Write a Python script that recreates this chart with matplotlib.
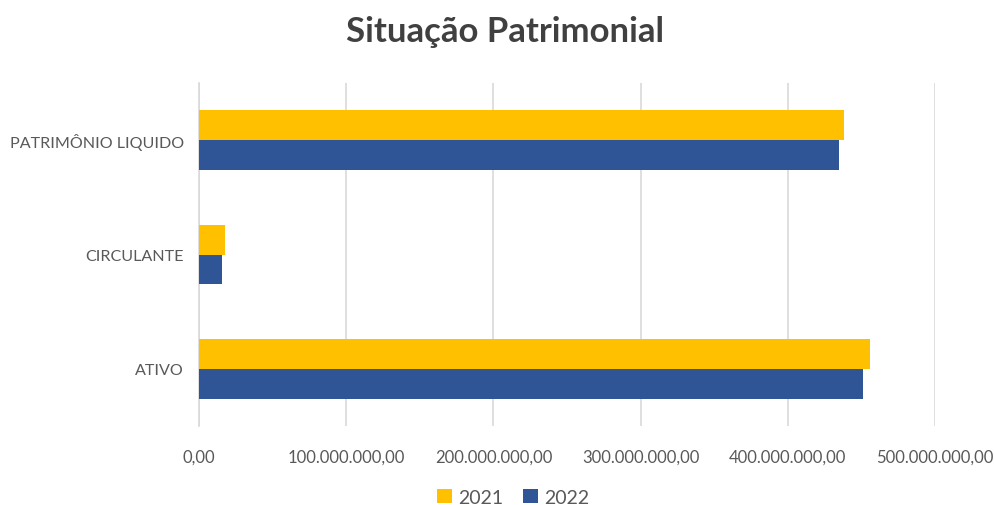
import matplotlib
matplotlib.use("Agg")
import matplotlib.pyplot as plt
import numpy as np

categories = ["ATIVO", "CIRCULANTE", "PATRIMÔNIO LIQUIDO"]
values_2021 = [456_000_000, 17_800_000, 438_000_000]
values_2022 = [451_000_000, 15_800_000, 435_000_000]
series_names = ["2021", "2022"]
xticks = [0, 100_000_000, 200_000_000, 300_000_000, 400_000_000, 500_000_000]
xtick_labels = ["0,00", "100.000.000,00", "200.000.000,00", "300.000.000,00",
                "400.000.000,00", "500.000.000,00"]

plt.rcParams['font.family'] = ['Lato', 'DejaVu Sans']

fig = plt.figure(figsize=(9.95, 5.06), dpi=100)
ax = fig.add_axes([0.2, 0.156, 0.7397, 0.678])

y = np.arange(len(categories))
h = 0.26
ax.barh(y + h / 2, values_2021, height=h, color="#FFC000", label=series_names[0], zorder=3)
ax.barh(y - h / 2, values_2022, height=h, color="#2F5597", label=series_names[1], zorder=3)

ax.set_xlim(0, 500_000_000)
ax.set_ylim(-0.5, 2.5)
ax.set_xticks(xticks)
ax.set_xticklabels(xtick_labels)
ax.set_yticks(y)
ax.set_yticklabels(categories)
ax.xaxis.grid(True, color="#D9D9D9", linewidth=1.2, zorder=0)
for s in ["top", "right", "bottom"]:
    ax.spines[s].set_visible(False)
ax.spines["left"].set_color("#D9D9D9")
ax.spines["left"].set_linewidth(1.2)
ax.tick_params(axis="both", length=0, colors="#595959")
ax.tick_params(axis="x", pad=16, labelsize=12)
ax.tick_params(axis="y", pad=11, labelsize=11.6)

fig.text(0.508, 0.937, "Situação Patrimonial", ha="center", va="center",
         fontsize=25, fontweight="bold", color="#404040")

leg = fig.legend(loc="center", bbox_to_anchor=(0.516, 0.015), ncol=2, frameon=False,
                 fontsize=14, handlelength=0.75, handleheight=0.75, handletextpad=0.35,
                 columnspacing=1.0)
for t in leg.get_texts():
    t.set_color("#595959")

fig.savefig("out.png", dpi=100)
